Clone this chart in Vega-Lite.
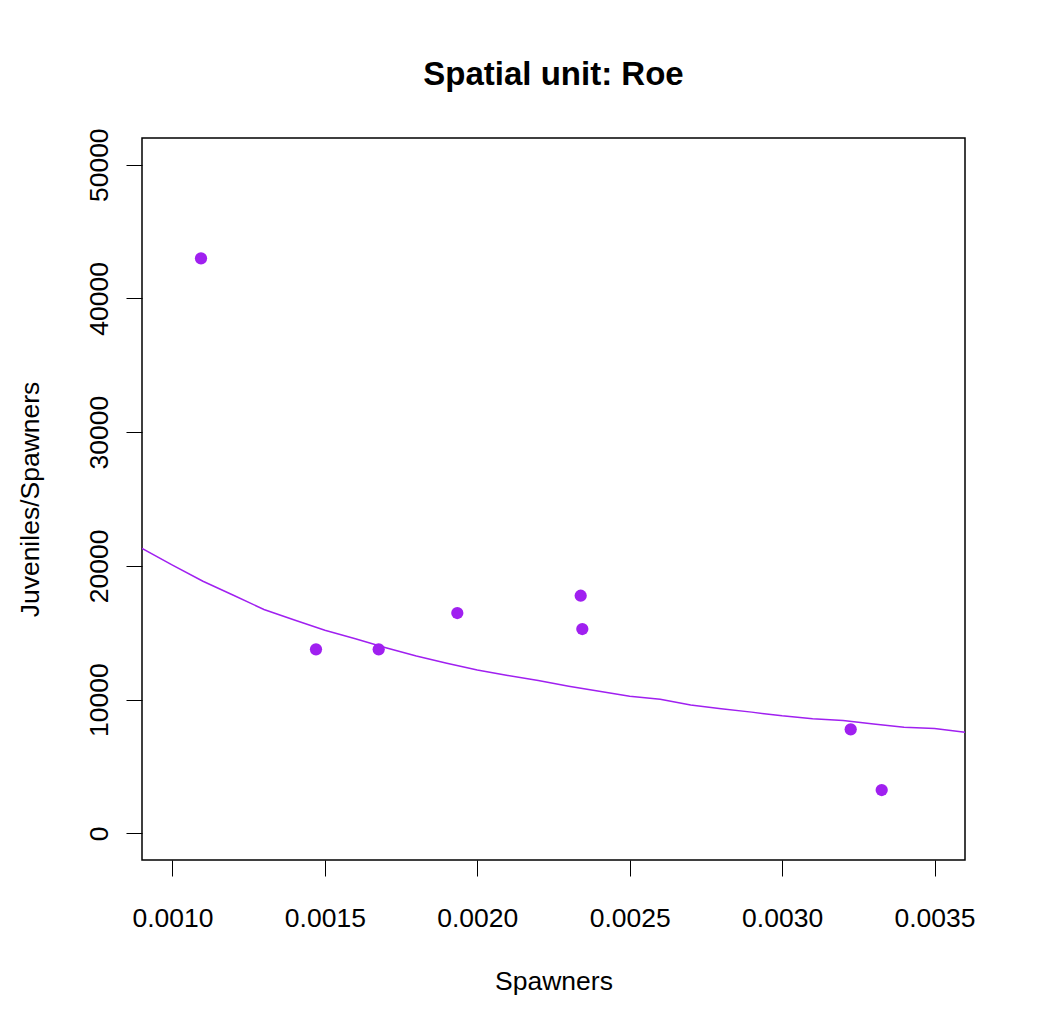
{
  "$schema": "https://vega.github.io/schema/vega-lite/v6.json",
  "width": 823,
  "height": 722,
  "autosize": {"type": "none"},
  "padding": {"left": 142, "top": 138, "right": 75, "bottom": 164},
  "background": "white",
  "title": {
    "text": "Spatial unit: Roe",
    "font": "Liberation Sans",
    "fontSize": 33,
    "fontWeight": "bold",
    "color": "black",
    "anchor": "middle",
    "frame": "group",
    "baseline": "alphabetic",
    "offset": 10
  },
  "datasets": {
    "obs": [
      {"spawners": 0.0010936, "jps": 43001},
      {"spawners": 0.0014708, "jps": 13758},
      {"spawners": 0.0016765, "jps": 13758},
      {"spawners": 0.0019344, "jps": 16473},
      {"spawners": 0.0023392, "jps": 17767},
      {"spawners": 0.0023445, "jps": 15276},
      {"spawners": 0.003225, "jps": 7775},
      {"spawners": 0.0033267, "jps": 3235}
    ],
    "fit": [
      {"spawners": 0.0009, "jps": 21312},
      {"spawners": 0.0010, "jps": 20050},
      {"spawners": 0.0011, "jps": 18850},
      {"spawners": 0.0012, "jps": 17800},
      {"spawners": 0.0013, "jps": 16740},
      {"spawners": 0.0014, "jps": 15950},
      {"spawners": 0.0015, "jps": 15180},
      {"spawners": 0.0016, "jps": 14550},
      {"spawners": 0.0017, "jps": 13880},
      {"spawners": 0.0018, "jps": 13260},
      {"spawners": 0.0019, "jps": 12720},
      {"spawners": 0.0020, "jps": 12210},
      {"spawners": 0.0021, "jps": 11800},
      {"spawners": 0.0022, "jps": 11420},
      {"spawners": 0.0023, "jps": 11000},
      {"spawners": 0.0024, "jps": 10620},
      {"spawners": 0.0025, "jps": 10250},
      {"spawners": 0.0026, "jps": 10030},
      {"spawners": 0.0027, "jps": 9590},
      {"spawners": 0.0028, "jps": 9320},
      {"spawners": 0.0029, "jps": 9060},
      {"spawners": 0.0030, "jps": 8780},
      {"spawners": 0.0031, "jps": 8560},
      {"spawners": 0.0032, "jps": 8440},
      {"spawners": 0.0033, "jps": 8180},
      {"spawners": 0.0034, "jps": 7930},
      {"spawners": 0.0035, "jps": 7830},
      {"spawners": 0.0036, "jps": 7551}
    ]
  },
  "encoding": {
    "x": {
      "field": "spawners",
      "type": "quantitative",
      "scale": {"domain": [0.0009, 0.0036], "nice": false, "zero": false},
      "axis": {
        "title": "Spawners",
        "values": [0.001, 0.0015, 0.002, 0.0025, 0.003, 0.0035],
        "format": ".4f",
        "domain": false,
        "grid": false,
        "ticks": true,
        "tickSize": 16,
        "tickColor": "black",
        "tickWidth": 1,
        "labelFont": "Liberation Sans",
        "labelFontSize": 26.5,
        "labelColor": "black",
        "labelPadding": 29,
        "labelOverlap": false,
        "labelFlush": false,
        "titleFont": "Liberation Sans",
        "titleFontSize": 26.5,
        "titleFontWeight": "normal",
        "titleColor": "black",
        "titleBaseline": "alphabetic",
        "titleAlign": "center",
        "titleX": 411.5,
        "titleY": 129
      }
    },
    "y": {
      "field": "jps",
      "type": "quantitative",
      "scale": {"domain": [-2000, 52000], "nice": false, "zero": false},
      "axis": {
        "title": "Juveniles/Spawners",
        "values": [0, 10000, 20000, 30000, 40000, 50000],
        "format": "d",
        "domain": false,
        "grid": false,
        "ticks": true,
        "tickSize": 16,
        "tickColor": "black",
        "tickWidth": 1,
        "labelFont": "Liberation Sans",
        "labelFontSize": 26.5,
        "labelColor": "black",
        "labelAngle": 270,
        "labelAlign": "center",
        "labelBaseline": "alphabetic",
        "labelPadding": 19,
        "labelOverlap": false,
        "labelFlush": false,
        "titleFont": "Liberation Sans",
        "titleFontSize": 26.5,
        "titleFontWeight": "normal",
        "titleColor": "black",
        "titleAngle": 270,
        "titleBaseline": "alphabetic",
        "titleAlign": "center",
        "titleX": -104,
        "titleY": 361
      }
    }
  },
  "layer": [
    {
      "data": {"name": "fit"},
      "mark": {"type": "line", "color": "#A020F0", "strokeWidth": 1.5, "clip": true}
    },
    {
      "data": {"name": "obs"},
      "mark": {"type": "point", "filled": true, "color": "#A020F0", "opacity": 1, "size": 150, "shape": "circle"}
    }
  ],
  "config": {
    "view": {"stroke": "black", "strokeWidth": 1.5}
  }
}
